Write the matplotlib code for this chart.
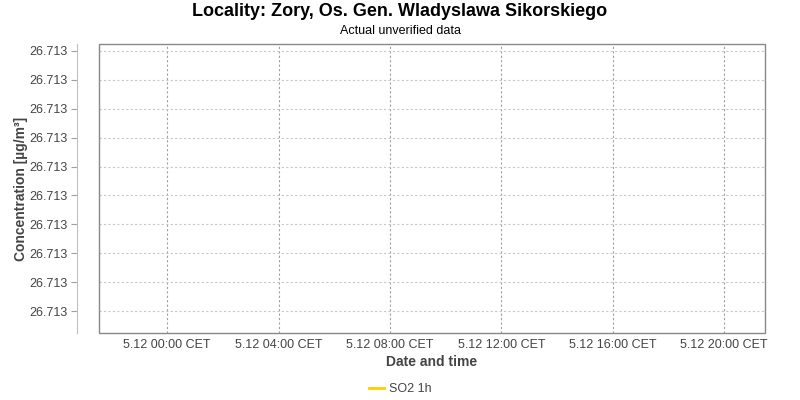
import matplotlib
matplotlib.use("Agg")
import matplotlib.pyplot as plt
import matplotlib.dates as mdates
from matplotlib.patches import Rectangle
from matplotlib.ticker import FixedLocator, FormatStrFormatter
from datetime import datetime

plt.rcParams['font.family'] = ['Liberation Sans', 'DejaVu Sans']

title = "Locality: Zory, Os. Gen. Wladyslawa Sikorskiego"
subtitle = "Actual unverified data"
series_name = "SO2 1h"

# one hourly value only, so the line renderer draws nothing
times = [datetime(2023, 12, 5, 21, 0)]
values = [26.713]

x_start = datetime(2023, 12, 4, 21, 33)
x_end = datetime(2023, 12, 5, 21, 28)
x_ticks = [datetime(2023, 12, 5, h, 0) for h in (0, 4, 8, 12, 16, 20)]

y_lo = 26.712945
y_hi = 26.713045
y_ticks = [26.7129526 + k * 0.00001 for k in range(10)]

fig = plt.figure(figsize=(8, 4), dpi=100)
ax = fig.add_axes([99 / 800, 67 / 400, 666 / 800, 289 / 400])

ax.plot(times, values, color="#FFCC00", linewidth=2, label=series_name)

ax.set_xlim(x_start, x_end)
ax.set_ylim(y_lo, y_hi)
ax.xaxis.set_major_locator(FixedLocator(mdates.date2num(x_ticks)))
ax.xaxis.set_major_formatter(mdates.DateFormatter("%-d.%m %H:%M CET"))
ax.yaxis.set_major_locator(FixedLocator(y_ticks))
ax.yaxis.set_major_formatter(FormatStrFormatter("%.3f"))

ax.grid(axis="x", color="#a0a0a0", linestyle=(0, (2, 2)), linewidth=0.8)
ax.grid(axis="y", color="#c8c8c8", linestyle=(0, (2, 2)), linewidth=0.8)

for side in ("top", "right", "bottom"):
    ax.spines[side].set_visible(False)
# 22 px gap between the value axis and the plot box
ax.spines["left"].set_position(("outward", 22 * 72 / 100))
ax.spines["left"].set_color("#c0c0c0")
ax.add_patch(Rectangle((0, 0), 1, 1, transform=ax.transAxes, fill=False,
                       edgecolor="#888888", linewidth=1.0, clip_on=False, zorder=5))

ax.tick_params(axis="y", length=4, color="#a0a0a0", labelsize=9,
               labelcolor="#444444", pad=2.5)
ax.tick_params(axis="x", length=0, labelsize=9, labelcolor="#444444", pad=4)

ax.set_xlabel("Date and time", fontsize=10, fontweight="bold",
              color="#444444", labelpad=3)
ax.set_ylabel("Concentration [µg/m³]", fontsize=10, fontweight="bold",
              color="#444444", labelpad=1)

fig.text(0.5, 1 - 12 / 400, title, ha="center", va="center",
         fontsize=13, fontweight="bold", color="black")
fig.text(0.5, 1 - 31 / 400, subtitle, ha="center", va="center",
         fontsize=9, color="black")

leg = fig.legend(loc="center", bbox_to_anchor=(0.5, 1 - 389 / 400),
                 frameon=False, fontsize=9, handlelength=1.2,
                 handletextpad=0.4)
for t in leg.get_texts():
    t.set_color("#444444")

fig.savefig("out.png", dpi=100)
